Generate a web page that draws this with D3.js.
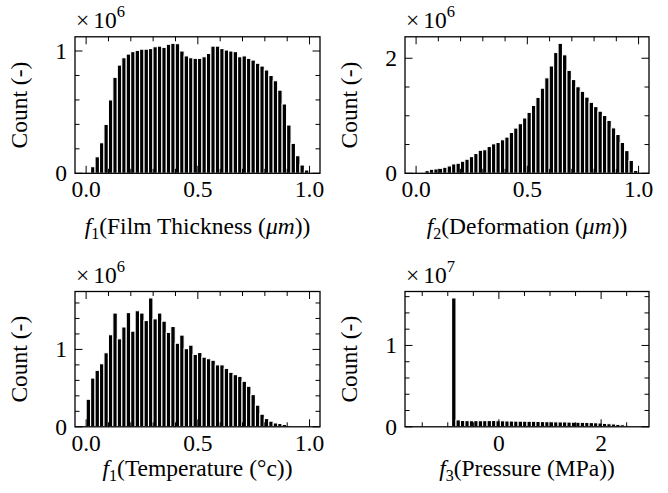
<!DOCTYPE html>
<html lang="en">
  <head>
    <meta charset="utf-8">
    <title>Histograms</title>
    <script src="https://d3js.org/d3.v7.min.js"></script>
    <style>
      body { margin: 0; background: #fff; }
    </style>
  </head>
  <body>
    <div id="chart"></div>
    <script>
      // histogram counts, 50 bins each (in units of the axis multiplier)
      var filmThickness = [0.005, 0.054, 0.135, 0.25, 0.40, 0.60, 0.785, 0.885, 0.945, 0.975,
        0.995, 1.005, 1.015, 1.015, 1.02, 1.035, 1.04, 1.03, 1.055, 1.063,
        1.06, 1.0, 0.96, 0.945, 0.94, 0.94, 0.953, 0.98, 1.04, 1.04,
        1.02, 1.008, 1.0, 0.995, 0.953, 0.96, 0.94, 0.926, 0.90, 0.877,
        0.845, 0.80, 0.757, 0.68, 0.567, 0.395, 0.245, 0.144, 0.068, 0.027];
      var deformation = [0.005, 0.017, 0.047, 0.07, 0.076, 0.087, 0.105, 0.128, 0.163, 0.175,
        0.21, 0.245, 0.29, 0.344, 0.40, 0.41, 0.466, 0.513, 0.536, 0.583,
        0.63, 0.71, 0.787, 0.863, 0.962, 1.06, 1.18, 1.32, 1.48, 1.66,
        1.866, 2.10, 2.26, 2.06, 1.79, 1.63, 1.505, 1.425, 1.325, 1.235,
        1.16, 1.08, 1.005, 0.92, 0.79, 0.675, 0.536, 0.395, 0.225, 0.05];
      var temperature = [0.356, 0.63, 0.73, 0.815, 0.957, 1.19, 1.47, 1.137, 1.29, 1.476,
        1.236, 1.50, 1.47, 1.373, 1.665, 1.395, 1.47, 1.365, 1.22, 1.296,
        1.08, 1.185, 1.01, 1.055, 0.936, 0.96, 0.90, 0.88, 0.86, 0.80,
        0.80, 0.755, 0.704, 0.674, 0.652, 0.588, 0.524, 0.416, 0.28, 0.163,
        0.107, 0.073, 0.05, 0.043, 0.03, 0.013, 0.008, 0.004, 0.002, 0.001];
      var pressure = [0, 0, 0, 0, 0, 0, 0, 0, 1.584, 0.085,
        0.078, 0.076, 0.075, 0.076, 0.075, 0.076, 0.077, 0.077, 0.075, 0.074,
        0.072, 0.071, 0.070, 0.069, 0.069, 0.068, 0.068, 0.066, 0.064, 0.063,
        0.062, 0.061, 0.060, 0.060, 0.058, 0.057, 0.056, 0.055, 0.054, 0.052,
        0.050, 0.047, 0.042, 0.038, 0.035, 0.030, 0.025, 0.012, 0.006, 0.003];

      // data ranges the bins span
      var unitRange = [0, 0.997];
      var pressureRange = [-1.62, 2.72];

      // tick labels
      var unitTicks = [0, 0.5, 1.0];
      var pressureTicks = [0, 2];

      var W = 668, H = 493;
      var svg = d3.select("#chart").append("svg")
          .attr("width", W).attr("height", H)
          .attr("font-family", "'Liberation Serif', 'Times New Roman', Times, serif");

      var panels = [
        {left: 75, right: 320, top: 36.8, bottom: 173.3, labelGap: 61, counts: filmThickness, range: unitRange,
         xTicks: unitTicks, xFmt: d3.format(".1f"), xMinor: 0.1, yMajor: [0, 1], yMinor: 0.2, exp: "6",
         label: [["f", "it"], ["1", "sub"], ["(Film Thickness (", ""], ["\u03bcm", "it"], ["))", ""]]},
        {left: 405, right: 649, top: 36.8, bottom: 173.3, labelGap: 61, counts: deformation, range: unitRange,
         xTicks: unitTicks, xFmt: d3.format(".1f"), xMinor: 0.1, yMajor: [0, 2], yMinor: 0.5, exp: "6",
         label: [["f", "it"], ["2", "sub"], ["(Deformation (", ""], ["\u03bcm", "it"], ["))", ""]]},
        {left: 75, right: 320, top: 291.5, bottom: 426.8, labelGap: 49, counts: temperature, range: unitRange,
         xTicks: unitTicks, xFmt: d3.format(".1f"), xMinor: 0.1, yMajor: [0, 1], yMinor: 0.2, exp: "6",
         label: [["f", "it"], ["1", "sub"], ["(Temperature (\u00b0c))", ""]]},
        {left: 405, right: 649, top: 291.5, bottom: 426.8, labelGap: 49, counts: pressure, range: pressureRange,
         xTicks: pressureTicks, xFmt: d3.format("d"), xMinor: 0.5, yMajor: [0, 1], yMinor: 0.2, exp: "7",
         label: [["f", "it"], ["3", "sub"], ["(Pressure (MPa))", ""]]}
      ];

      var fs = 23.5;

      panels.forEach(function(p) {
        var n = p.counts.length;
        var span = p.range[1] - p.range[0];
        var bw = span / n;
        var x = d3.scaleLinear()
            .domain([p.range[0] - 0.05 * span, p.range[1] + 0.05 * span])
            .range([p.left, p.right]);
        var y = d3.scaleLinear()
            .domain([0, d3.max(p.counts) * 1.05])
            .range([p.bottom, p.top]);

        var g = svg.append("g");

        // bars
        g.selectAll("rect.bar")
            .data(p.counts.map(function(c, i) { return {x0: p.range[0] + i * bw, x1: p.range[0] + (i + 1) * bw, c: c}; })
                  .filter(function(d) { return d.c > 0; }))
            .enter().append("rect")
            .attr("class", "bar")
            .attr("x", function(d) { return x(d.x0); })
            .attr("width", function(d) { return x(d.x1) - x(d.x0); })
            .attr("y", function(d) { return y(d.c); })
            .attr("height", function(d) { return y(0) - y(d.c); })
            .attr("fill", "#000")
            .attr("stroke", "#fff")
            .attr("stroke-width", 1.1);

        // ticks, pointing inward on all sides
        var xd = x.domain(), yd = y.domain();
        var xMinorTicks = d3.range(Math.ceil(xd[0] / p.xMinor) * p.xMinor, xd[1], p.xMinor)
            .filter(function(v) { return !p.xTicks.some(function(t) { return Math.abs(t - v) < 1e-6; }); });
        var yMinorTicks = d3.range(p.yMinor, yd[1], p.yMinor)
            .filter(function(v) { return !p.yMajor.some(function(t) { return Math.abs(t - v) < 1e-6; }); });

        function xTick(v, len) {
          g.append("line").attr("x1", x(v)).attr("x2", x(v)).attr("y1", p.bottom).attr("y2", p.bottom - len)
            .attr("stroke", "#000").attr("stroke-width", 1);
          g.append("line").attr("x1", x(v)).attr("x2", x(v)).attr("y1", p.top).attr("y2", p.top + len)
            .attr("stroke", "#000").attr("stroke-width", 1);
        }
        function yTick(v, len) {
          g.append("line").attr("x1", p.left).attr("x2", p.left + len).attr("y1", y(v)).attr("y2", y(v))
            .attr("stroke", "#000").attr("stroke-width", 1);
          g.append("line").attr("x1", p.right).attr("x2", p.right - len).attr("y1", y(v)).attr("y2", y(v))
            .attr("stroke", "#000").attr("stroke-width", 1);
        }
        xMinorTicks.forEach(function(v) { xTick(v, 4.5); });
        p.xTicks.forEach(function(v) { xTick(v, 7.5); });
        yMinorTicks.forEach(function(v) { yTick(v, 4.5); });
        p.yMajor.forEach(function(v) { yTick(v, 7.5); });

        // frame
        g.append("rect")
            .attr("x", p.left).attr("y", p.top)
            .attr("width", p.right - p.left).attr("height", p.bottom - p.top)
            .attr("fill", "none").attr("stroke", "#000").attr("stroke-width", 1.3);

        // tick labels
        p.xTicks.forEach(function(v) {
          g.append("text").attr("x", x(v)).attr("y", p.bottom + 24)
            .attr("text-anchor", "middle").attr("font-size", fs).text(p.xFmt(v));
        });
        p.yMajor.forEach(function(v) {
          g.append("text").attr("x", p.left - 8).attr("y", y(v) + 8)
            .attr("text-anchor", "end").attr("font-size", fs).text(v);
        });

        // multiplier
        var m = g.append("text").attr("x", p.left + 1).attr("y", p.top - 8.5).attr("font-size", fs);
        m.append("tspan").text("\u00d7");
        m.append("tspan").attr("dx", 4).text("10");
        m.append("tspan").attr("dy", -11).attr("font-size", 16.5).text(p.exp);

        // axis labels
        var cx = (p.left + p.right) / 2;
        var xl = g.append("text").attr("x", cx).attr("y", p.bottom + p.labelGap)
            .attr("text-anchor", "middle").attr("font-size", fs);
        var prevSub = false;
        p.label.forEach(function(part) {
          var t = xl.append("tspan").text(part[0]);
          if (part[1] === "it") t.attr("font-style", "italic");
          if (part[1] === "sub") { t.attr("font-size", 16).attr("dy", 5); prevSub = true; }
          else if (prevSub) { t.attr("dy", -5); prevSub = false; }
        });

        var cy = (p.top + p.bottom) / 2;
        g.append("text")
            .attr("transform", "translate(" + (p.left - 48) + "," + cy + ") rotate(-90)")
            .attr("text-anchor", "middle").attr("font-size", fs).text("Count (-)");
      });
    </script>
  </body>
</html>
